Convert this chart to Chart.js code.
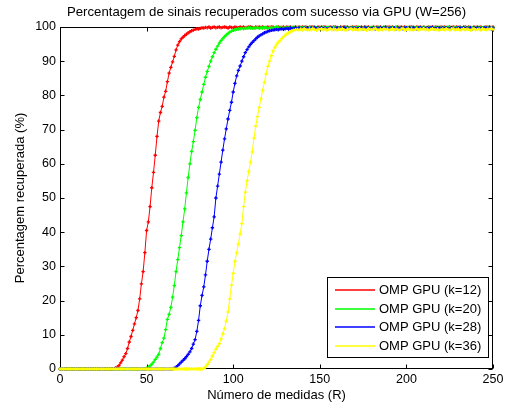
<!DOCTYPE html>
<html>
<head>
<meta charset="utf-8">
<script src="https://cdn.jsdelivr.net/npm/chart.js@4/dist/chart.umd.min.js"></script>
<style>
html,body{margin:0;padding:0;background:#fff;}
#wrap{width:513px;height:407px;position:relative;}
</style>
</head>
<body>
<div id="wrap"><canvas id="c" width="513" height="407"></canvas></div>
<script>
// ---- DATA ----
const titleText = "Percentagem de sinais recuperados com sucesso via GPU (W=256)";
const xTitle = "Número de medidas (R)";
const yTitle = "Percentagem recuperada (%)";
const seriesLabels = ["OMP GPU (k=12)", "OMP GPU (k=20)", "OMP GPU (k=28)", "OMP GPU (k=36)"];
const seriesColors = ["#ff0000", "#00ff00", "#0000ff", "#ffff00"];
const xTicks = [0, 50, 100, 150, 200, 250];
const yTicks = [0, 10, 20, 30, 40, 50, 60, 70, 80, 90, 100];

const R = [
0,1,2,3,4,5,6,7,8,9,
10,11,12,13,14,15,16,17,18,19,
20,21,22,23,24,25,26,27,28,29,
30,31,32,33,34,35,36,37,38,39,
40,41,42,43,44,45,46,47,48,49,
50,51,52,53,54,55,56,57,58,59,
60,61,62,63,64,65,66,67,68,69,
70,71,72,73,74,75,76,77,78,79,
80,81,82,83,84,85,86,87,88,89,
90,91,92,93,94,95,96,97,98,99,
100,101,102,103,104,105,106,107,108,109,
110,111,112,113,114,115,116,117,118,119,
120,121,122,123,124,125,126,127,128,129,
130,131,132,133,134,135,136,137,138,139,
140,141,142,143,144,145,146,147,148,149,
150,151,152,153,154,155,156,157,158,159,
160,161,162,163,164,165,166,167,168,169,
170,171,172,173,174,175,176,177,178,179,
180,181,182,183,184,185,186,187,188,189,
190,191,192,193,194,195,196,197,198,199,
200,201,202,203,204,205,206,207,208,209,
210,211,212,213,214,215,216,217,218,219,
220,221,222,223,224,225,226,227,228,229,
230,231,232,233,234,235,236,237,238,239,
240,241,242,243,244,245,246,247,248,249,
250];

const k12 = [
0,0,0,0,0,0,0,0,0,0,
0,0,0,0,0,0,0,0,0,0,
0,0,0,0,0,0,0,0,0,0,
0,0,0.3,0.5,1,1.8,2.6,3.6,4.5,6,
7.9,9.5,11.3,13.2,15,17.1,20.5,24.9,28.5,34,
40.5,43,47.5,53,57.5,62.5,68,72.5,75,76.8,
79.5,81.2,84,86.5,88.2,89.8,91.4,93.3,94.7,95.7,
96.5,97,97.5,97.9,98.3,98.6,98.9,99.1,99.3,99.5,
99.4,99.6,99.8,99.7,99.9,99.8,100,99.7,99.9,100,
99.8,99.9,100,99.8,99.9,100,99.9,99.7,100,99.9,
99.8,100,99.9,99.8,100,99.9,100,99.8,99.9,100,
100,99.9,99.8,100,99.9,100,99.9,100,99.8,99.9,
100,99.9,100,100,99.8,99.9,100,99.9,99.9,100,
99.8,100,99.9,100,99.9,99.8,100,99.9,100,99.9,
100,99.9,100,99.8,99.9,100,100,99.9,99.8,100,
99.9,100,99.9,100,99.9,99.8,100,99.9,100,100,
99.9,99.8,100,99.9,100,99.9,100,99.8,99.9,100,
99.9,100,99.9,99.8,100,99.9,100,99.9,100,99.8,
99.9,100,99.9,100,99.9,100,99.8,99.9,100,99.9,
100,99.9,100,99.8,99.9,100,99.9,100,99.9,100,
99.8,99.9,100,100,99.9,99.8,100,99.9,100,99.9,
100,99.8,99.9,100,99.9,100,99.9,100,99.8,99.9,
100,99.9,100,99.9,99.8,100,99.9,100,99.9,100,
99.9,100,99.8,99.9,100,99.9,100,99.9,99.8,100,
99.9,100,99.9,100,99.8,99.9,100,99.9,100,99.9,
100];

const k20 = [
0,0,0,0,0,0,0,0,0,0,
0,0,0,0,0,0,0,0,0,0,
0,0,0,0,0,0,0,0,0,0,
0,0,0,0,0,0,0,0,0,0,
0,0,0,0,0,0,0,0,0,0,
0.2,0.5,0.9,1.4,2,2.8,3.5,4.3,6,7.7,
9,11.5,14.5,16,18,21,24.4,28.5,32,35.5,
39,43,46.8,51.5,56,60,63.6,66.5,69.8,73.5,
76.5,78.8,81,83.2,85.3,87,88.5,90,91.3,92.5,
93.5,94.4,95.3,96,96.6,97.2,97.7,98.1,98.5,98.8,
99,99.2,99.3,99.4,99.5,99.6,99.5,99.7,99.6,99.8,
99.7,99.6,99.8,99.7,99.9,99.6,99.8,99.7,99.9,99.8,
99.6,99.8,99.9,99.7,99.8,100,99.7,99.9,99.8,99.6,
99.9,99.8,99.7,99.9,99.8,100,99.7,99.8,99.9,99.7,
99.8,99.9,99.7,99.8,100,99.8,99.7,99.9,99.8,99.6,
99.9,99.8,100,99.7,99.8,99.9,99.7,99.8,100,99.9,
99.7,99.8,99.9,99.6,99.8,100,99.9,99.7,99.8,99.9,
99.8,99.7,100,99.9,99.8,99.7,99.9,99.8,99.6,99.9,
99.8,100,99.7,99.8,99.9,99.8,99.7,100,99.8,99.9,
99.7,99.8,99.9,99.8,100,99.7,99.8,99.9,99.6,99.8,
99.9,99.8,99.7,100,99.8,99.9,99.8,99.7,99.9,99.8,
100,99.7,99.8,99.9,99.8,99.6,99.9,99.8,100,99.7,
99.8,99.9,99.7,99.8,100,99.9,99.8,99.7,99.9,99.8,
99.7,99.9,99.8,100,99.8,99.7,99.9,99.8,99.9,99.7,
99.8,100,99.9,99.7,99.8,99.9,99.8,100,99.7,99.8,
99.9];

const k28 = [
0,0,0,0,0,0,0,0,0,0,
0,0,0,0,0,0,0,0,0,0,
0,0,0,0,0,0,0,0,0,0,
0,0,0,0,0,0,0,0,0,0,
0,0,0,0,0,0,0,0,0,0,
0,0,0,0,0,0,0,0,0,0,
0,0,0,0,0,0,0.2,0.5,1,1.5,
2,2.5,3,3.6,4.3,5,6,7.3,8.6,11,
14.2,18.5,21.5,24,27.5,31.5,35,38,41.3,44.5,
50,53.5,57,60.5,64,67.3,70.2,73.1,75.6,78,
81,83.5,85.7,87.3,88.6,90,91.3,92.5,93.4,94.2,
94.9,95.5,96,96.5,97,97.4,97.7,98,98.3,98.5,
98.7,98.9,99,99.1,99.2,99.3,99.2,99.4,99.5,99.3,
99.5,99.6,99.4,99.7,99.5,99.6,99.8,99.5,99.7,99.6,
99.4,99.7,99.6,99.8,99.5,99.7,99.6,99.9,99.5,99.7,
99.6,99.8,99.5,99.7,99.4,99.6,99.8,99.7,99.5,99.6,
99.8,99.6,99.7,99.5,99.9,99.6,99.7,99.4,99.8,99.6,
99.7,99.5,99.6,99.8,99.7,99.5,99.9,99.6,99.7,99.4,
99.6,99.8,99.5,99.7,99.6,99.8,99.5,99.7,99.9,99.6,
99.5,99.7,99.6,99.8,99.4,99.7,99.6,99.8,99.5,99.7,
99.8,99.6,99.7,99.5,99.9,99.6,99.4,99.7,99.8,99.6,
99.7,99.5,99.8,99.6,99.7,99.9,99.5,99.6,99.8,99.7,
99.6,99.8,99.5,99.7,99.6,99.4,99.8,99.7,99.5,99.6,
99.8,99.7,99.6,99.9,99.5,99.7,99.6,99.8,99.4,99.7,
99.6,99.8,99.7,99.5,99.6,99.8,99.7,99.6,99.9,99.5,
99.7];

const k36 = [
0,0,0,0,0,0,0,0,0,0,
0,0,0,0,0,0,0,0,0,0,
0,0,0,0,0,0,0,0,0,0,
0,0,0,0,0,0,0,0,0,0,
0,0,0,0,0,0,0,0,0,0,
0,0,0,0,0,0,0,0,0,0,
0,0,0,0,0,0,0,0,0,0,
0,0,0,0,0,0,0,0,0,0,
0,0,0,0.2,0.6,1.3,2,2.8,3.8,4.8,
5.8,6.6,7.4,8.8,10.3,11.8,14,16.7,20.5,24.5,
28,31.5,34,36.5,39.5,42.5,47.5,51.7,55,57.8,
60.5,63.5,67.5,71,73.8,76.5,79,81.5,83.8,86.3,
88.5,90,91.6,93,94,94.8,95.5,96,96.6,97.1,
97.6,98,98.3,98.6,98.9,99.1,99.2,99.3,99.1,99.4,
99.2,99.5,99.3,99.1,99.4,99.2,99.6,99.3,99.0,99.4,
99.3,99.5,99.2,99.4,99.1,99.3,99.6,99.2,99.4,99.3,
99.1,99.4,99.3,99.5,99.2,99.0,99.4,99.3,99.6,99.2,
99.4,99.3,99.1,99.5,99.2,99.4,99.3,99.0,99.5,99.3,
99.2,99.4,99.6,99.3,99.1,99.4,99.2,99.5,99.3,99.4,
99.1,99.3,99.5,99.2,99.4,99.3,99.0,99.4,99.6,99.2,
99.3,99.5,99.2,99.4,99.1,99.3,99.5,99.2,99.4,99.3,
99.6,99.2,99.4,99.1,99.3,99.5,99.3,99.2,99.4,99.0,
99.3,99.4,99.2,99.5,99.3,99.1,99.4,99.6,99.2,99.3,
99.4,99.1,99.3,99.5,99.2,99.4,99.3,99.0,99.4,99.5,
99.2,99.3,99.4,99.1,99.5,99.3,99.2,99.4,99.3,99.6,
99.3];

// ---- CHART ----
const FONT = "'Liberation Sans', Arial, Helvetica, sans-serif";
const allSeries = [k12, k20, k28, k36];
const toPts = arr => R.map((x, i) => ({x: x, y: arr[i]}));

const datasets = allSeries.map((arr, i) => ({
  label: seriesLabels[i],
  data: toPts(arr),
  borderColor: seriesColors[i],
  backgroundColor: seriesColors[i],
  borderWidth: 1,
  pointStyle: 'cross',
  pointRadius: 1.7,
  pointBorderWidth: 1.3,
  pointHoverRadius: 1.7,
  tension: 0,
  fill: false,
  clip: false,
  order: 3 - i
}));

const framePlugin = {
  id: 'frame',
  beforeDatasetsDraw(chart) {
    const {ctx, chartArea: a, scales} = chart;
    ctx.save();
    ctx.strokeStyle = '#000';
    ctx.lineWidth = 1;
    const L = Math.round(a.left) + 0.5, Rr = Math.round(a.right) - 0.5;
    const T = Math.round(a.top) + 0.5, B = Math.round(a.bottom) - 0.5;
    ctx.strokeRect(L, T, Rr - L, B - T);
    const tl = 4;
    ctx.beginPath();
    xTicks.forEach(v => {
      const px = Math.round(scales.x.getPixelForValue(v)) + 0.5;
      ctx.moveTo(px, B); ctx.lineTo(px, B - tl);
      ctx.moveTo(px, T); ctx.lineTo(px, T + tl);
    });
    yTicks.forEach(v => {
      const py = Math.round(scales.y.getPixelForValue(v)) + 0.5;
      ctx.moveTo(L, py); ctx.lineTo(L + tl, py);
      ctx.moveTo(Rr, py); ctx.lineTo(Rr - tl, py);
    });
    ctx.stroke();
    // title centred over the plot
    ctx.fillStyle = '#000';
    ctx.font = "13.2px " + FONT;
    ctx.textAlign = 'center';
    ctx.textBaseline = 'middle';
    ctx.fillText(titleText, 266.5, 12.5);
    ctx.restore();
  }
};

const legendPlugin = {
  id: 'boxLegend',
  afterDraw(chart) {
    const {ctx} = chart;
    ctx.save();
    const bx = 327.5, by = 277.5, bw = 161, bh = 80;
    ctx.fillStyle = '#ffffff';
    ctx.fillRect(bx, by, bw, bh);
    ctx.strokeStyle = '#000000';
    ctx.lineWidth = 1;
    ctx.strokeRect(bx, by, bw, bh);
    ctx.font = "13px " + FONT;
    ctx.textBaseline = 'middle';
    ctx.textAlign = 'left';
    seriesLabels.forEach((lab, i) => {
      const y = 290 + i * 18.7;
      ctx.strokeStyle = seriesColors[i];
      ctx.lineWidth = 1.5;
      ctx.beginPath();
      ctx.moveTo(335, Math.round(y));
      ctx.lineTo(375, Math.round(y));
      ctx.stroke();
      ctx.fillStyle = '#000000';
      ctx.fillText(lab, 379, y + 0.5);
    });
    ctx.restore();
  }
};

new Chart(document.getElementById('c'), {
  type: 'line',
  data: { datasets: datasets },
  options: {
    responsive: false,
    animation: false,
    events: [],
    layout: { padding: { left: 0, right: 20, top: 27, bottom: 0 } },
    plugins: {
      legend: { display: false },
      tooltip: { enabled: false },
      title: { display: false }
    },
    scales: {
      x: {
        type: 'linear',
        min: 0, max: 250,
        grid: { display: false, drawTicks: false },
        border: { display: false },
        afterFit(s) { s.height = 38; },
        afterBuildTicks(s) { s.ticks = xTicks.map(v => ({value: v})); },
        ticks: { color: '#000', padding: 3.5, maxRotation: 0, font: { family: FONT, size: 12.5 } },
        title: { display: true, text: xTitle, color: '#000', font: { family: FONT, size: 13, lineHeight: 1.2 }, padding: { top: 0, bottom: 4.2 } }
      },
      y: {
        type: 'linear',
        min: 0, max: 100,
        grid: { display: false, drawTicks: false },
        border: { display: false },
        afterFit(s) { s.width = 60; },
        afterBuildTicks(s) { s.ticks = yTicks.map(v => ({value: v})); },
        ticks: { color: '#000', padding: 4, font: { family: FONT, size: 12.5 } },
        title: { display: true, text: yTitle, color: '#000', font: { family: FONT, size: 13, lineHeight: 1.2 }, padding: { top: 12.2, bottom: 0 } }
      }
    }
  },
  plugins: [framePlugin, legendPlugin]
});
</script>
</body>
</html>
